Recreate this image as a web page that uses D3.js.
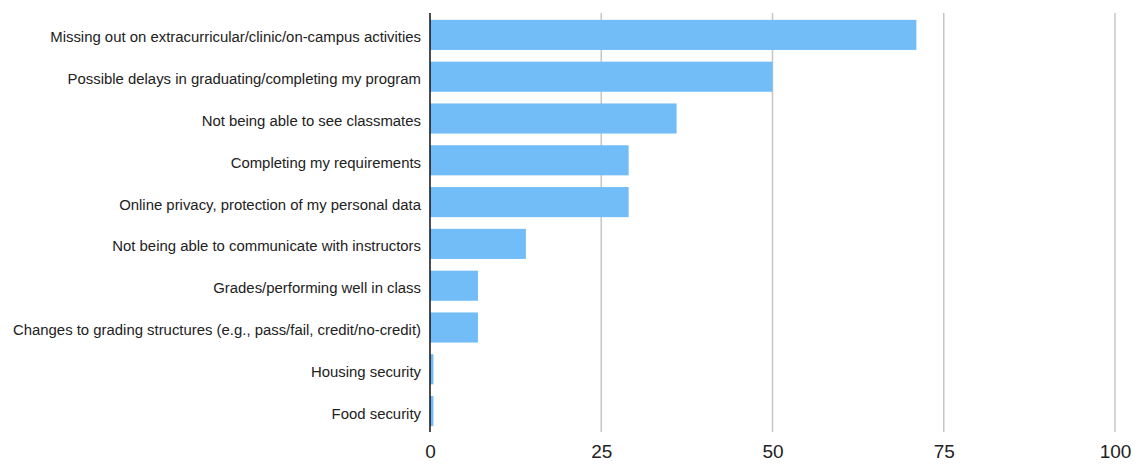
<!DOCTYPE html>
<html>
<head>
<meta charset="utf-8">
<script src="https://cdn.jsdelivr.net/npm/d3@7"></script>
<style>
  body { margin: 0; background: #fff; }
  svg { display: block; font-family: "Liberation Sans", Arial, Helvetica, sans-serif; }
</style>
</head>
<body>
<svg id="chart"></svg>
<script>
// Chart data
const categories = [
    'Missing out on extracurricular/clinic/on-campus activities',
    'Possible delays in graduating/completing my program',
    'Not being able to see classmates',
    'Completing my requirements',
    'Online privacy, protection of my personal data',
    'Not being able to communicate with instructors',
    'Grades/performing well in class',
    'Changes to grading structures (e.g., pass/fail, credit/no-credit)',
    'Housing security',
    'Food security'
];
const values = [71, 50, 36, 29, 29, 14, 7, 7, 0.5, 0.5];
const xTicks = [0, 25, 50, 75, 100];

const width = 1137;
const height = 464;
const margin = { top: 14, right: 22, bottom: 32, left: 430 };

const svg = d3.select('#chart')
    .attr('width', width)
    .attr('height', height);

const data = categories.map((c, i) => ({ label: c, value: values[i] }));

// Scales
const x = d3.scaleLinear()
    .domain([0, 100])
    .range([margin.left, width - margin.right]);

const y = d3.scaleBand()
    .domain(categories)
    .range([margin.top, height - margin.bottom])
    .paddingInner(0.28)
    .paddingOuter(0.14);

// Gridlines
svg.append('g')
    .selectAll('line')
    .data(xTicks.filter(d => d > 0))
    .enter()
    .append('line')
    .attr('x1', d => x(d))
    .attr('x2', d => x(d))
    .attr('y1', margin.top - 1)
    .attr('y2', height - margin.bottom)
    .attr('stroke', '#c6c6c6')
    .attr('stroke-width', 1.5);

// Bars
svg.selectAll('.bar')
    .data(data)
    .enter()
    .append('rect')
    .attr('class', 'bar')
    .attr('x', x(0))
    .attr('y', d => y(d.label))
    .attr('width', d => x(d.value) - x(0))
    .attr('height', y.bandwidth())
    .attr('fill', '#72bdf8');

// Zero axis line
svg.append('line')
    .attr('x1', x(0))
    .attr('x2', x(0))
    .attr('y1', margin.top - 1)
    .attr('y2', height - margin.bottom)
    .attr('stroke', '#111')
    .attr('stroke-width', 1.5);

// Category labels
svg.append('g')
    .attr('transform', `translate(${margin.left}, 0)`)
    .call(d3.axisLeft(y).tickSize(0).tickPadding(9))
    .call(g => g.select('.domain').remove())
    .selectAll('text')
    .attr('font-size', '14.9px')
    .attr('fill', '#222')
    .attr('dy', '0.5em');

// X tick labels
svg.append('g')
    .attr('transform', `translate(0, ${height - margin.bottom})`)
    .call(d3.axisBottom(x).tickValues(xTicks).tickSize(0).tickPadding(13))
    .call(g => g.select('.domain').remove())
    .selectAll('text')
    .attr('font-size', '19px')
    .attr('fill', '#222');
</script>
</body>
</html>
